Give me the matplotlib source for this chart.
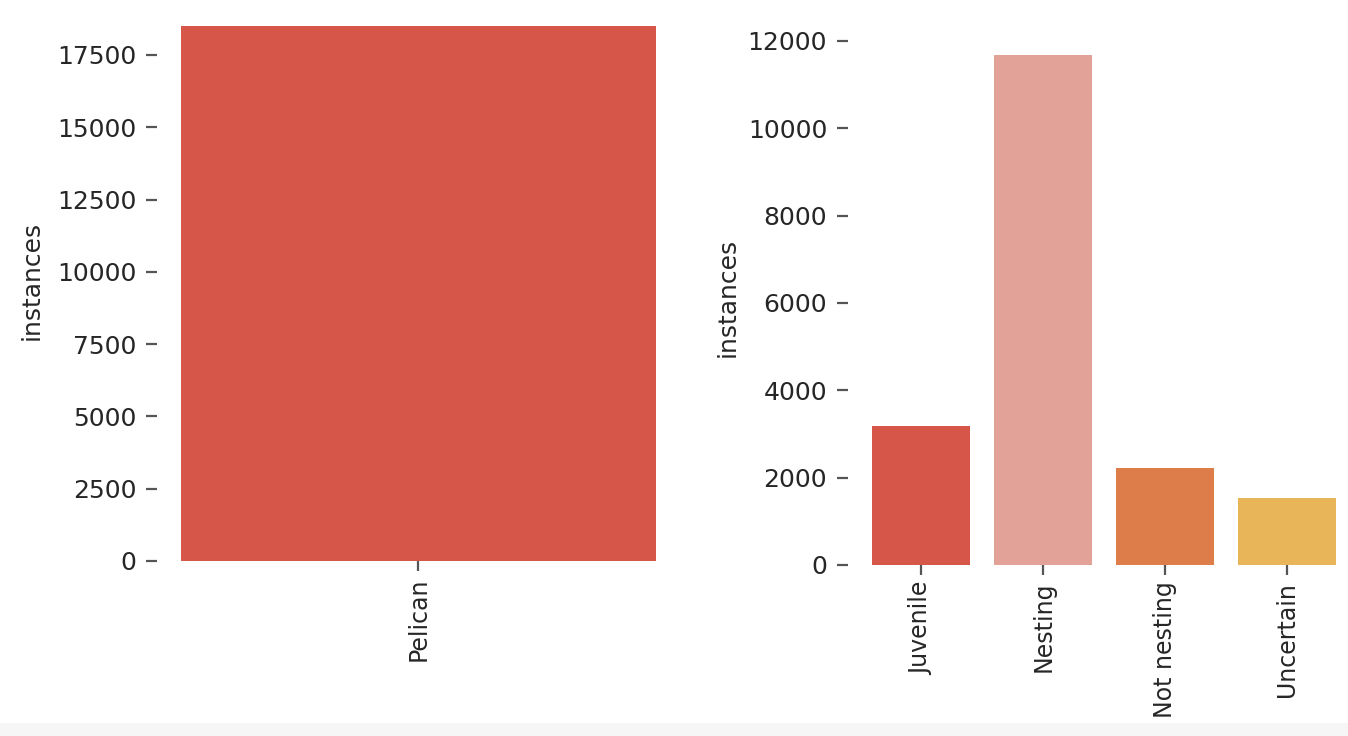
import matplotlib
matplotlib.use('Agg')
import matplotlib.pyplot as plt
from matplotlib.patches import Rectangle

# Counts
species = ['Pelican']
species_counts = [18510]

status = ['Juvenile', 'Nesting', 'Not nesting', 'Uncertain']
status_counts = [3180, 11665, 2225, 1530]

bar_red = '#d6574a'
status_colors = ['#d6574a', '#e3a298', '#dd7d49', '#e8b558']

plt.rcParams['font.family'] = 'DejaVu Sans'
text_color = '#262626'
fs = 18

fig = plt.figure(figsize=(13.48, 7.36), dpi=100)

# screenshot strip at the bottom
fig.patches.append(Rectangle((0, 0), 1, 13 / 736, transform=fig.transFigure,
                             facecolor='#f6f6f6', edgecolor='none', zorder=0))

ax1 = fig.add_axes([157 / 1348, 1 - 561 / 736, 499 / 1348, 561 / 736])
ax2 = fig.add_axes([848 / 1348, 1 - 565 / 736, 488 / 1348, 535 / 736])


def style(ax):
    for s in ax.spines.values():
        s.set_visible(False)
    ax.set_facecolor('none')
    ax.tick_params(axis='y', length=8, width=1.6, color='#555555',
                   labelsize=fs, labelcolor=text_color, pad=7)
    ax.tick_params(axis='x', length=7, width=1.6, color='#555555',
                   labelsize=17, labelcolor=text_color, pad=5)
    ax.set_ylabel('instances', fontsize=fs, color=text_color)


# Left: species
ax1.bar(range(len(species)), species_counts, width=0.8, color=bar_red)
ax1.set_xticks(range(len(species)))
ax1.set_xticklabels(species, rotation=90)
ax1.set_xlim(-0.44, 0.4)
ax1.set_ylim(0, max(species_counts) * 1.048)
ax1.set_yticks(range(0, 17501, 2500))
style(ax1)
ax1.yaxis.set_label_coords(-0.227, 0.5)

# Right: nesting status
ax2.bar(range(len(status)), status_counts, width=0.8, color=status_colors)
ax2.set_xticks(range(len(status)))
ax2.set_xticklabels(status, rotation=90)
ax2.set_xlim(-0.6, 3.4)
ax2.set_ylim(0, max(status_counts) * 1.05)
ax2.set_yticks(range(0, 12001, 2000))
style(ax2)
ax2.yaxis.set_label_coords(-0.222, 0.5)

fig.savefig('out.png', dpi=100)
